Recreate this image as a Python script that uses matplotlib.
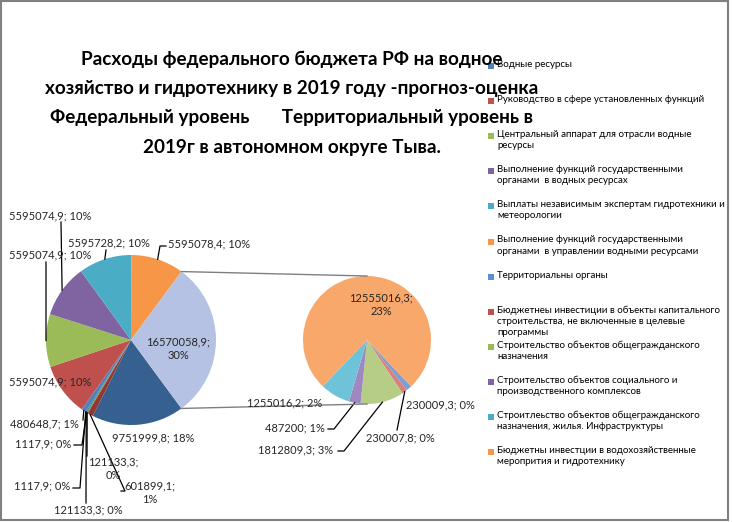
import numpy as np
import matplotlib.pyplot as plt
from matplotlib.patches import Rectangle

plt.rcParams['font.family'] = ['Lato', 'DejaVu Sans']

W, H = 732, 522

# main pie, clockwise starting right after the "other" slice
main_values = [9751999.8, 601899.1, 121133.3, 1117.9, 121133.3, 1117.9, 480648.7,
               5595074.9, 5595074.9, 5595074.9, 5595728.2, 5595078.4]
main_colors = ['#36608f', '#943634', '#77933c', '#5f497a', '#31859c', '#e46c0a', '#4f81bd',
               '#c0504d', '#9bbb59', '#8064a2', '#4bacc6', '#f79646']
other_color = '#b6c2e3'

# second pie (the split "other" slice), clockwise
second_values = [230009.3, 230007.8, 1812809.3, 487200, 1255016.2, 12555016.3]
second_colors = ['#7b9fd3', '#d7807d', '#b5cd85', '#9f88c0', '#6ec3d9', '#f9a86b']

legend_labels = [
    'Водные ресурсы',
    'Руководство в сфере установленных функций',
    'Центральный аппарат для отрасли водные\nресурсы',
    'Выполнение функций государственными\nорганами  в водных ресурсах',
    'Выплаты независимым экспертам гидротехники и\nметеорологии',
    'Выполнение функций государственными\nорганами  в управлении водными ресурсами',
    'Территориальны органы',
    'Бюджетнеы инвестиции в объекты капитального\nстроительства, не включенные в целевые\nпрограммы',
    'Строительство объектов общегражданского\nназначения',
    'Строительство объектов социального и\nпроизводственного комплексов',
    'Строитлеьство объектов общегражданского\nназначения, жилья. Инфраструктуры',
    'Бюджетны инвестции в водохозяйственные\nмеропрития и гидротехнику',
]
legend_colors = ['#4f81bd', '#c0504d', '#9bbb59', '#8064a2', '#4bacc6', '#f79646',
                 '#5b8fd0', '#c0504d', '#9bbb59', '#8064a2', '#4bacc6', '#f79646']

title_lines = ['Расходы федерального бюджета РФ на водное',
               'хозяйство и гидротехнику в 2019 году -прогноз-оценка',
               'Федеральный уровень       Территориальный уровень в',
               '2019г в автономном округе Тыва.']

# layout (image pixels, y from top)
main_c, main_r = (131, 340), 85
sec_c, sec_r = (367, 340), 64
main_lab = [(153, 438), (150, 493), (113, 469), (43, 444), (88, 510), (42, 486), (44, 424),
            (50, 382), (50, 255), (50, 216), (109, 243), (209, 244)]
main_two = [False, True, True, False, False, False, False, False, False, False, False, False]
main_lead = [None, (121, 491, 4), (87, 456, 0), (74, 445, 8), (86, 503, 0), (73, 488, 7),
             (83, 420, 0), None, (46, 262, 0), (61, 222, 0), (106, 250, 0), (166, 246, -6)]
other_lab = (178, 349)
sec_lab = [(440, 405), (400, 438), (296, 450), (295, 428), (285, 403), (381, 305)]
sec_two = [False, False, False, False, False, True]
sec_lead = [None, (397, 430, 0), (338, 451, 6), (328, 429, 6), None, None]

total = sum(main_values) + sum(second_values)
other_value = sum(second_values)


def fy(y):
    # image y (from top) -> axes y (from bottom)
    return H - y


def fmt(v, two):
    s = str(int(v)) if float(v).is_integer() else f'{v:.1f}'.replace('.', ',')
    sep = ';\n' if two else '; '
    return f'{s}{sep}{round(v / total * 100):.0f}%'


fig = plt.figure(figsize=(W / 100, H / 100), dpi=100)
ax = fig.add_axes([0, 0, 1, 1])

other_deg = other_value / total * 360
w_main, _ = ax.pie(main_values + [other_value], colors=main_colors + [other_color],
                   startangle=-other_deg / 2, counterclock=False,
                   center=(main_c[0], fy(main_c[1])), radius=main_r,
                   wedgeprops=dict(linewidth=0))
sec_small = sum(second_values[:-1]) / other_value * 360
w_sec, _ = ax.pie(second_values, colors=second_colors,
                  startangle=-90 + sec_small / 2, counterclock=False,
                  center=(sec_c[0], fy(sec_c[1])), radius=sec_r,
                  wedgeprops=dict(linewidth=0))


def edge_point(w):
    a = np.deg2rad((w.theta1 + w.theta2) / 2)
    return w.center[0] + w.r * np.cos(a), w.center[1] + w.r * np.sin(a)


def draw_labels(wedges, values, labs, two, leads):
    for w, v, (x, y), t, ld in zip(wedges, values, labs, two, leads):
        ax.text(x, fy(y), fmt(v, t), ha='center', va='center', fontsize=8,
                color='#262626', linespacing=1.25)
        if ld is not None:
            ex, ey = edge_point(w)
            sx, sy, stub = ld
            ax.plot([sx, sx + stub, ex], [fy(sy), fy(sy), ey], color='black', lw=0.9)


draw_labels(w_main, main_values, main_lab, main_two, main_lead)
draw_labels(w_sec, second_values, sec_lab, sec_two, sec_lead)
ax.text(other_lab[0], fy(other_lab[1]), fmt(other_value, True), ha='center', va='center',
        fontsize=8, color='#262626', linespacing=1.25)

# connector lines between the two pies
ow = w_main[-1]
for ang, sy in [(ow.theta2, sec_c[1] - sec_r), (ow.theta1, sec_c[1] + sec_r)]:
    a = np.deg2rad(ang)
    ax.plot([ow.center[0] + main_r * np.cos(a), sec_c[0]],
            [ow.center[1] + main_r * np.sin(a), fy(sy)], color='#7f7f7f', lw=1)

# title
for i, line in enumerate(title_lines):
    ax.text(292, fy(59 + 29.5 * i), line, ha='center', va='center', fontsize=13.6,
            fontweight='bold', color='black')

# legend, drawn on top of the title like the original
for i, (lab, col) in enumerate(zip(legend_labels, legend_colors)):
    y0 = 66 + 35.1 * i
    ax.add_patch(Rectangle((488, fy(y0) - 3), 6, 6, facecolor=col, edgecolor='none'))
    ax.text(497, fy(y0) + 6, lab, ha='left', va='top', fontsize=7, color='black',
            linespacing=1.3)

# chart area frame
ax.add_patch(Rectangle((1, fy(520)), 727, 519, facecolor='none', edgecolor='#808080', lw=1.5))
ax.set_xlim(0, W)
ax.set_ylim(0, H)
ax.axis('off')
fig.savefig('out.png', dpi=100)
